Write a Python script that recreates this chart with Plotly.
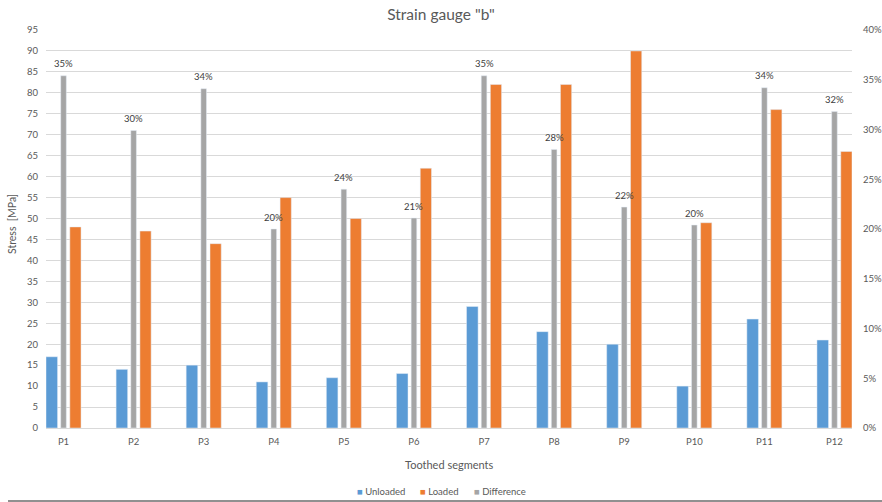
import plotly.graph_objects as go

categories = ["P1", "P2", "P3", "P4", "P5", "P6", "P7", "P8", "P9", "P10", "P11", "P12"]
unloaded = [17, 14, 15, 11, 12, 13, 29, 23, 20, 10, 26, 21]
loaded = [48, 47, 44, 55, 50, 62, 82, 82, 90, 49, 76, 66]
difference = [0.354, 0.299, 0.341, 0.200, 0.240, 0.211, 0.354, 0.280, 0.222, 0.204, 0.342, 0.318]
y_ticks = list(range(0, 100, 5))
y2_ticks = [0, 0.05, 0.10, 0.15, 0.20, 0.25, 0.30, 0.35, 0.40]
series_names = ["Unloaded", "Loaded", "Difference"]
series_colors = ["#5B9BD5", "#ED7D31", "#A5A5A5"]

FONT = "Lato, 'Open Sans', sans-serif"
TXT = "#595959"
x = list(range(len(categories)))

fig = go.Figure()
fig.add_trace(go.Bar(x=x, y=unloaded, name=series_names[0], marker_color=series_colors[0],
                     offset=-0.25, width=0.165))
fig.add_trace(go.Bar(x=x, y=loaded, name=series_names[1], marker_color=series_colors[1],
                     offset=0.09, width=0.16))
fig.add_trace(go.Bar(x=x, y=difference, name=series_names[2], marker_color=series_colors[2],
                     offset=-0.04, width=0.08, yaxis="y2"))

for xi, v in zip(x, difference):
    fig.add_annotation(x=xi, y=v, xref="x", yref="y2", text=f"{round(v*100):d}%",
                       showarrow=False, yanchor="middle", yshift=12,
                       font=dict(size=9.5, color="#404040", family=FONT))

fig.update_layout(
    width=882, height=502,
    margin=dict(l=46, r=30, t=30, b=74, autoexpand=False),
    paper_bgcolor="white", plot_bgcolor="white",
    barmode="overlay",
    showlegend=False,
    font=dict(family=FONT, color=TXT, size=9.5),
    title=dict(text='Strain gauge "b"', x=0.5, xanchor="center", y=1 - 15/502, yanchor="middle",
               font=dict(size=15.5, color=TXT, family=FONT)),
    xaxis=dict(range=[-0.25, 11.25], tickvals=x, ticktext=categories, showgrid=False,
               ticks="outside", ticklen=5, tickcolor="rgba(0,0,0,0)",
               showline=True, linecolor="#d9d9d9", zeroline=False,
               tickfont=dict(size=9.5, color=TXT)),
    yaxis=dict(range=[0, 95], tickvals=y_ticks, showgrid=True, gridcolor="#d9d9d9",
               zeroline=False, ticks="outside", ticklen=5, tickcolor="rgba(0,0,0,0)",
               tickfont=dict(size=9.5, color=TXT)),
    yaxis2=dict(range=[0, 0.4], tickvals=y2_ticks, tickformat=".0%", overlaying="y",
                side="right", showgrid=False, zeroline=False,
                ticks="outside", ticklen=8, tickcolor="rgba(0,0,0,0)",
                tickfont=dict(size=9.5, color=TXT)),
)

# custom compact legend
legend_px = [355, 418, 472]
for name, col, px in zip(series_names, series_colors, legend_px):
    fig.add_annotation(text=f'<span style="color:{col}">■</span> {name}', xref="paper", yref="paper",
                       x=(px - 46) / 806, y=(428 - 491) / 398, xanchor="left", yanchor="middle",
                       showarrow=False, font=dict(size=9.5, color=TXT, family=FONT))

fig.add_annotation(text="Toothed segments", xref="paper", yref="paper", x=0.5,
                   y=(428 - 465) / 398, showarrow=False, yanchor="middle",
                   font=dict(size=11, color=TXT, family=FONT))
fig.add_annotation(text="Stress  [MPa]", xref="paper", yref="paper", x=(12 - 46) / 806,
                   y=(428 - 224) / 398, textangle=-90, showarrow=False, xanchor="center",
                   yanchor="middle", font=dict(size=10.5, color=TXT, family=FONT))
fig.add_shape(type="line", xref="paper", yref="paper", x0=(8 - 46) / 806, x1=(882 - 46) / 806,
              y0=(428 - 501) / 398, y1=(428 - 501) / 398, line=dict(color="#909090", width=2))

fig.write_html("out.html")
